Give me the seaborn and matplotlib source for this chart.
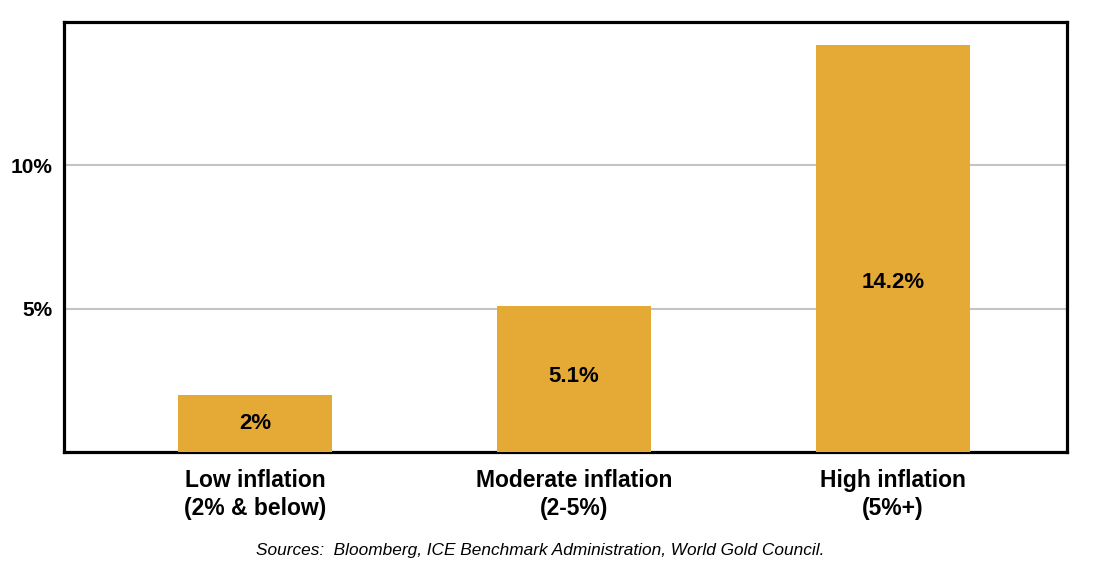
import matplotlib
matplotlib.use("Agg")
import matplotlib.pyplot as plt
import seaborn as sns
import pandas as pd

# bar data
categories = ["Low inflation\n(2% & below)", "Moderate inflation\n(2-5%)", "High inflation\n(5%+)"]
returns = [2.0, 5.1, 14.2]
bar_labels = ["2%", "5.1%", "14.2%"]
ytick_vals = [5, 10]
ytick_labels = ["5%", "10%"]
source_note = "Sources:  Bloomberg, ICE Benchmark Administration, World Gold Council."

sns.set_style("white")
plt.rcParams['font.family'] = ['Liberation Sans', 'DejaVu Sans']
plt.rcParams['text.color'] = 'black'
plt.rcParams['xtick.color'] = 'black'
plt.rcParams['ytick.color'] = 'black'

df = pd.DataFrame({'cat': categories, 'ret': returns})

fig = plt.figure(figsize=(11, 5.82), dpi=100)
ax = fig.add_axes([0.058, 0.2234, 0.912, 0.7386])

ax.grid(axis='y', color='#c4c4c4', linewidth=1.5)
ax.set_axisbelow(True)
sns.barplot(data=df, x='cat', y='ret', color='#e4aa35', saturation=1,
            width=0.483, linewidth=0, ax=ax, zorder=3)

# text inside the bars (vertical spots)
label_y = [1.0, 2.65, 5.9]
for i, (lab, yy) in enumerate(zip(bar_labels, label_y)):
    ax.text(i, yy, lab, ha='center', va='center', fontsize=16,
            fontweight='bold', color='black', zorder=4)

ax.set_xlim(-0.599, 2.545)
ax.set_ylim(0, 15)
ax.set_yticks(ytick_vals)
ax.set_yticklabels(ytick_labels, fontsize=15, fontweight='bold')
ax.set_xticks(range(len(categories)))
ax.set_xticklabels(categories, fontsize=16.5, fontweight='bold', linespacing=1.3)
ax.tick_params(axis='y', length=0, pad=8)
ax.tick_params(axis='x', length=0, pad=12)
ax.set_xlabel('')
ax.set_ylabel('')

for s in ax.spines.values():
    s.set_visible(True)
    s.set_color('black')
    s.set_linewidth(2.3)

fig.text(0.491, 0.054, source_note, ha='center', va='center',
         fontsize=12.4, style='italic', color='black')

fig.savefig('out.png', dpi=100)
